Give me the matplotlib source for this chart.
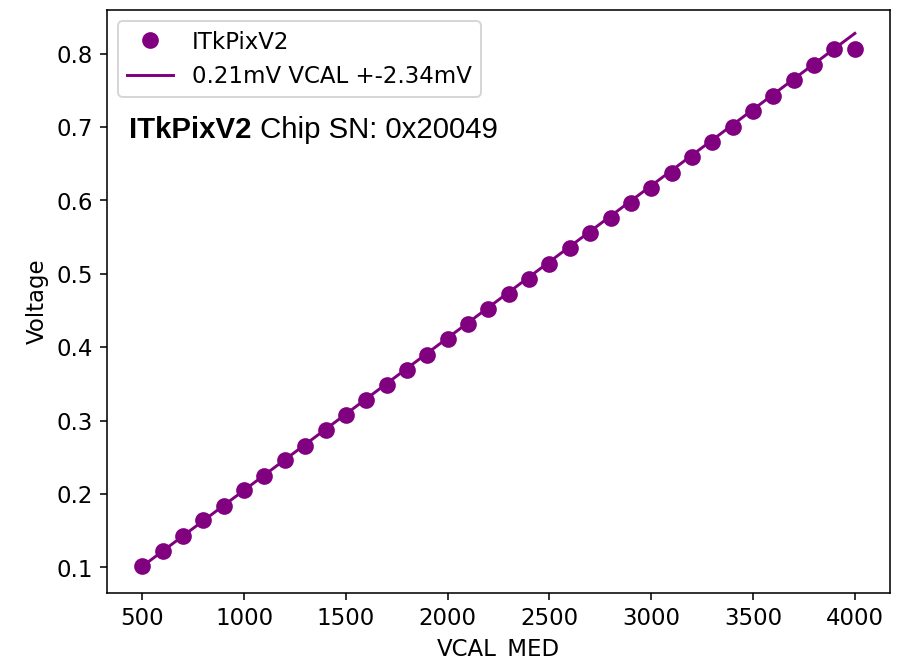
import numpy as np
from matplotlib import pyplot as plt

vcal = [500, 600, 700, 800, 900, 1000, 1100, 1200, 1300, 1400, 1500, 1600,
        1700, 1800, 1900, 2000, 2100, 2200, 2300, 2400, 2500, 2600, 2700, 2800,
        2900, 3000, 3100, 3200, 3300, 3400, 3500, 3600, 3700, 3800, 3900, 4000]
voltage = [0.1015, 0.122, 0.143, 0.164, 0.184, 0.205, 0.225, 0.246, 0.266,
           0.287, 0.308, 0.328, 0.349, 0.369, 0.390, 0.411, 0.431, 0.452,
           0.472, 0.493, 0.513, 0.535, 0.555, 0.576, 0.596, 0.617, 0.637,
           0.659, 0.680, 0.700, 0.722, 0.742, 0.764, 0.785, 0.807, 0.806]

# fit result (mV per VCAL count, mV offset)
slope_mv = 0.2075
offset_mv = -2.34

plt.rcParams["font.size"] = 11.7

fig = plt.figure(figsize=(6.4, 4.667), dpi=141.25)
ax = fig.add_axes([0.118, 0.100, 0.867, 0.885])

x = np.array(vcal)
ax.plot(x, voltage, "o", color="purple", markersize=7.5, label="ITkPixV2")
ax.plot(x, (slope_mv * x + offset_mv) / 1000.0, "-", color="purple", lw=1.5,
        label="%.2fmV VCAL +%.2fmV" % (slope_mv, offset_mv))

ax.set_xlabel("VCAL_MED")
ax.set_ylabel("Voltage")
ax.legend(loc="upper left")
ax.set_ylim(0.065, 0.86)

t = ax.text(0.029, 0.78, "ITkPixV2", transform=ax.transAxes, fontsize=15,
            fontweight="bold", family="Liberation Sans")
ax.annotate(" Chip SN: 0x20049", xy=(1, 0), xycoords=t, fontsize=15,
            family="Liberation Sans", va="bottom")

plt.savefig("out.png")
